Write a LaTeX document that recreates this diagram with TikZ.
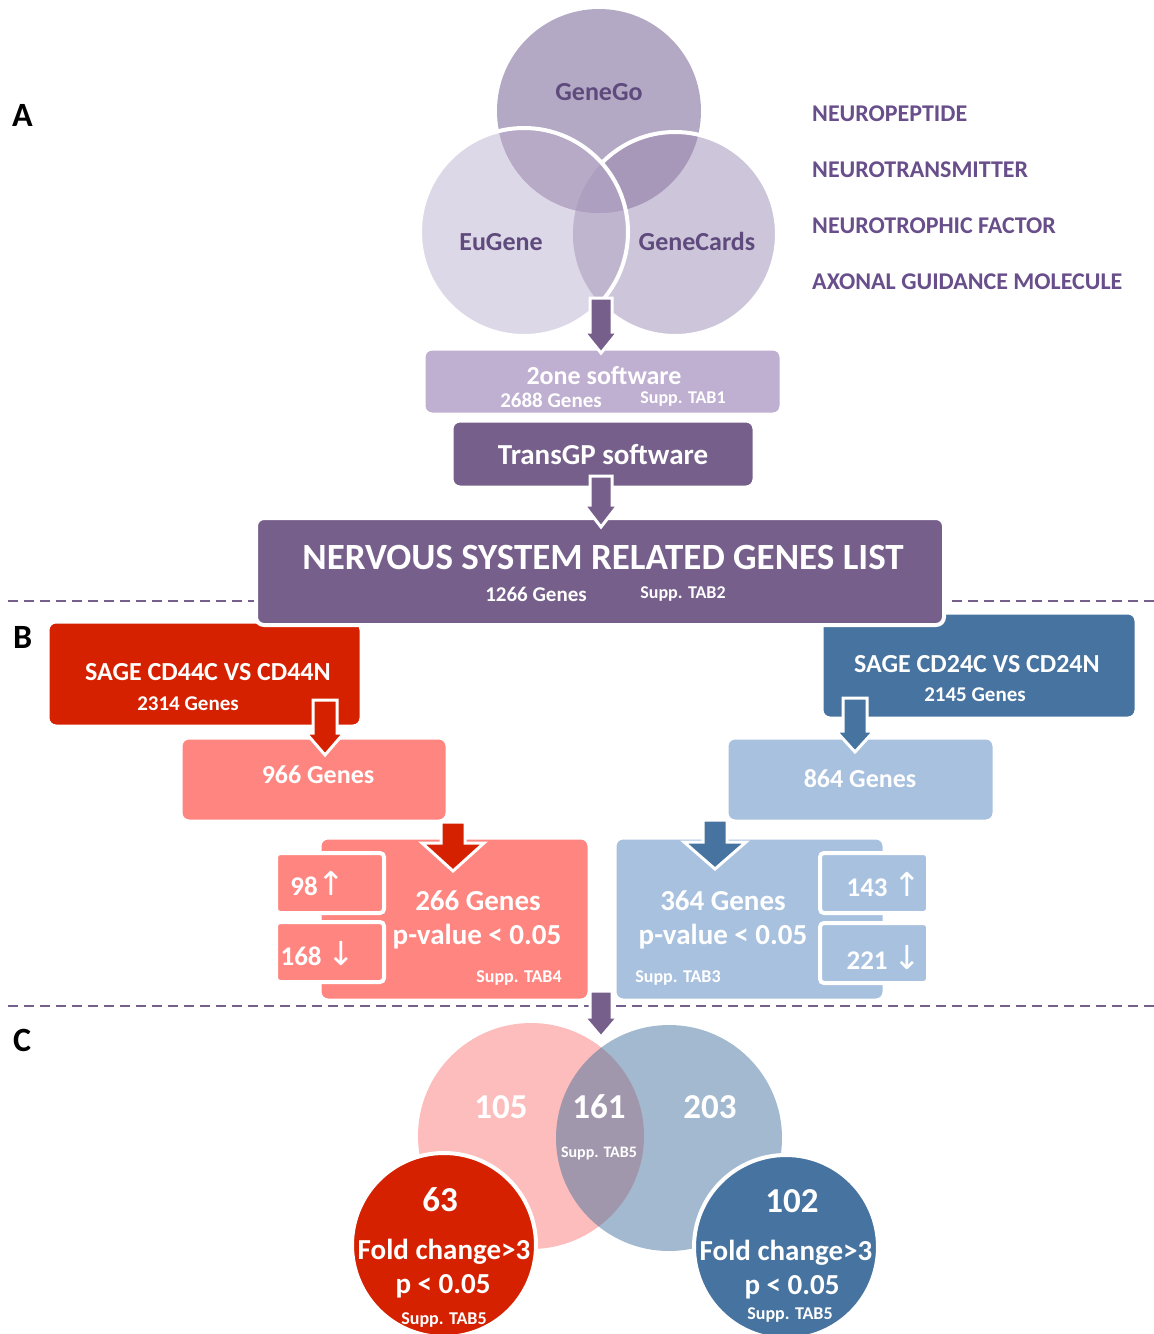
\documentclass[tikz,border=0pt]{standalone}
\usepackage{fontspec}
\setmainfont{Carlito}
\newfontfamily\arrowfont{DejaVu Sans}
\usetikzlibrary{calc}
\definecolor{pdark}{HTML}{765F8B}
\definecolor{plight}{HTML}{BFAFD0}
\definecolor{vtext}{HTML}{5E4A7C}
\definecolor{ltext}{HTML}{684E8A}
\definecolor{rdark}{HTML}{D62100}
\definecolor{rlight}{HTML}{FF8680}
\definecolor{bdark}{HTML}{46739F}
\definecolor{blight}{HTML}{A7C1DF}
\definecolor{eugc}{HTML}{DDD8E7}
\definecolor{gcc}{HTML}{CDC5DA}
\definecolor{ggc}{HTML}{B4A9C5}
\definecolor{ggxgc}{HTML}{A797B8}
\definecolor{euxgc}{HTML}{C0B5CF}
\definecolor{euxgg}{HTML}{B6AAC6}
\definecolor{triple}{HTML}{AD9FBF}
\definecolor{vpink}{HTML}{FDBDBC}
\newcommand{\uparr}{{\mdseries\fontsize{33}{33}\selectfont\arrowfont ↑}}
\newcommand{\dnarr}{{\mdseries\fontsize{33}{33}\selectfont\arrowfont ↓}}
\tikzset{
  lbl/.style={font=\bfseries\fontsize{#1}{#1}\selectfont, text=white, inner sep=0pt, anchor=base},
  box/.style={rectangle, rounded corners=8pt, inner sep=0pt, draw=white, line width=3pt},
  smallbox/.style={rectangle, rounded corners=4pt, inner sep=0pt, draw=white, line width=4pt,
    minimum width=108pt, minimum height=60pt},
  blockline/.style={draw=white, line width=3pt, line join=miter},
  sepline/.style={pdark, line width=2pt, dash pattern=on 10pt off 6pt},
  ring/.style={white, line width=4pt}
}
% start, end, half shaft, half head, head length, colour
\newcommand{\blockarrow}[6]{%
  \filldraw[fill=#6, blockline] let \p1=(#1), \p2=(#2) in
   ({\x1-#3pt},\y1) -- ({\x1+#3pt},\y1) -- ({\x1+#3pt},{\y2+#5pt}) -- ({\x1+#4pt},{\y2+#5pt})
   -- (\x1,\y2) -- ({\x1-#4pt},{\y2+#5pt}) -- ({\x1-#3pt},{\y2+#5pt}) -- cycle;}
\begin{document}
\begin{tikzpicture}[x=1pt,y=-1pt]
\useasboundingbox (0,0) rectangle (1154,1334);
\clip (0,0) rectangle (1154,1334);

% separators
\draw[sepline] (8,601) -- (1154,601);
\draw[sepline] (8,1006) -- (1154,1006);

% ---------- top Venn
\fill[eugc] (524,232) circle[radius=104];
\fill[gcc] (675,234) circle[radius=102];
\fill[ggc] (599,111) circle[radius=102];
\begin{scope}
  \clip (675,234) circle[radius=102];
  \fill[ggxgc] (599,111) circle[radius=102];
\end{scope}
\begin{scope}
  \clip (524,232) circle[radius=104];
  \fill[euxgc] (675,234) circle[radius=102];
  \fill[euxgg] (599,111) circle[radius=102];
  \clip (675,234) circle[radius=102];
  \fill[triple] (599,111) circle[radius=102];
\end{scope}
\begin{scope}[even odd rule]
  \clip (0,0) rectangle (1154,1334) (524,232) circle[radius=104];
  \draw[ring] (675,234) circle[radius=102];
\end{scope}
\draw[ring] (524,232) circle[radius=104];

\node[lbl=26,text=vtext] (tgenego) at (599,100) {GeneGo};
\node[lbl=26,text=vtext] (teugene) at (501,250) {EuGene};
\node[lbl=26,text=vtext] (tgenecards) at (697,250) {GeneCards};

\node[lbl=24,text=ltext,anchor=base west] (l1) at (812,121) {NEUROPEPTIDE};
\node[lbl=24,text=ltext,anchor=base west] (l2) at (812,177) {NEUROTRANSMITTER};
\node[lbl=24,text=ltext,anchor=base west] (l3) at (812,233) {NEUROTROPHIC FACTOR};
\node[lbl=24,text=ltext,anchor=base west] (l4) at (812,289) {AXONAL GUIDANCE MOLECULE};

\node[lbl=34,text=black,anchor=base west] (la) at (12,126) {A};
\node[lbl=34,text=black,anchor=base west] (lb) at (13,648) {B};
\node[lbl=34,text=black,anchor=base west] (lc) at (13,1051) {C};

% ---------- section A boxes
\node[box, fill=plight, minimum width=357pt, minimum height=65pt] (twoone) at (602.5,381.5) {};
\node[box, fill=pdark, minimum width=302pt, minimum height=66pt] (transgp) at (603,454) {};

% ---------- section B boxes
\node[box, fill=rdark, minimum width=313pt, minimum height=104pt] (sage44) at (204.5,674) {};
\node[box, fill=bdark, minimum width=314pt, minimum height=105pt] (sage24) at (979,665.5) {};
\node[box, fill=pdark, line width=4pt, minimum width=688pt, minimum height=107pt] (nerv) at (600,571.5) {};
\node[box, fill=rlight, minimum width=266pt, minimum height=83pt] (g966) at (314,779.5) {};
\node[box, fill=blight, minimum width=267pt, minimum height=83pt] (g864) at (860.5,779.5) {};
\node[box, fill=rlight, minimum width=269pt, minimum height=162pt] (g266) at (454.5,919) {};
\node[box, fill=blight, minimum width=269pt, minimum height=162pt] (g364) at (749.5,919) {};
\node[smallbox, fill=rlight] (up98) at (330,883) {};
\node[smallbox, fill=rlight] (dn168) at (330,952) {};
\node[smallbox, fill=blight] (up143) at (874,883) {};
\node[smallbox, fill=blight] (dn221) at (874,953) {};

% ---------- section C Venn
\fill[vpink] (531,1136) circle[radius=113];
\fill[bdark, opacity=0.5] (669,1138) circle[radius=113];
\node[circle, fill=rdark, draw=white, line width=4pt, minimum size=184pt, inner sep=0pt] (fc63) at (444,1245) {};
\node[circle, fill=bdark, draw=white, line width=4pt, minimum size=184pt, inner sep=0pt] (fc102) at (786,1247) {};

% ---------- block arrows
\coordinate (a1s) at (601,298);  \coordinate (a1e) at (601,353);
\coordinate (a2s) at (601,476);  \coordinate (a2e) at (601,527);
\coordinate (r1s) at (325,700);  \coordinate (r1e) at (325,755);
\coordinate (r2s) at (453,822);  \coordinate (r2e) at (453,871);
\coordinate (b1s) at (855,698);  \coordinate (b1e) at (855,752);
\coordinate (b2s) at (715,820);  \coordinate (b2e) at (715,869);
\coordinate (a3s) at (601,991);  \coordinate (a3e) at (601,1037);
\blockarrow{a1s}{a1e}{11}{17}{21}{pdark}
\blockarrow{a2s}{a2e}{11}{17}{22}{pdark}
\blockarrow{r1s}{r1e}{12}{19}{22}{rdark}
\blockarrow{r2s}{r2e}{12}{31}{28}{rdark}
\blockarrow{b1s}{b1e}{12}{19}{21}{bdark}
\blockarrow{b2s}{b2e}{12}{31}{27}{bdark}
\blockarrow{a3s}{a3e}{11}{17}{20}{pdark}

% ---------- texts
\node[lbl=26] (t2one) at (604,384) {2one software};
\node[lbl=21] (t2688) at (551,407) {2688 Genes};
\node[lbl=18] (ttab1) at (683,403) {Supp. TAB1};
\node[lbl=29] (ttrans) at (603,464) {TransGP software};
\node[lbl=37] (tnerv) at (603,569) {NERVOUS SYSTEM RELATED GENES LIST};
\node[lbl=21] (t1266) at (536,601) {1266 Genes};
\node[lbl=18] (ttab2) at (683,598) {Supp. TAB2};
\node[lbl=26] (tsage44) at (208,680) {SAGE CD44C VS CD44N};
\node[lbl=21] (t2314) at (188,710) {2314 Genes};
\node[lbl=26] (tsage24) at (977,672) {SAGE CD24C VS CD24N};
\node[lbl=21] (t2145) at (975,701) {2145 Genes};
\node[lbl=26] (t966) at (318,783) {966 Genes};
\node[lbl=26] (t864) at (860,787) {864 Genes};
\node[lbl=29] (t266) at (478,910) {266 Genes};
\node[lbl=29] (tp266) at (477,944) {p-value < 0.05};
\node[lbl=18] (ttab4) at (519,982) {Supp. TAB4};
\node[lbl=29] (t364) at (723,910) {364 Genes};
\node[lbl=29] (tp364) at (723,944) {p-value < 0.05};
\node[lbl=18] (ttab3) at (678,982) {Supp. TAB3};
\node[lbl=27] (t98) at (318,895) {98\uparr};
\node[lbl=27] (t168) at (318,965) {168 \dnarr};
\node[lbl=27] (t143) at (884,896) {143 \uparr};
\node[lbl=27] (t221) at (884,969) {221 \dnarr};

\node[lbl=35] (t105) at (501,1118) {105};
\node[lbl=35] (t161) at (599,1118) {161};
\node[lbl=35] (t203) at (710,1118) {203};
\node[lbl=16] (ttab5) at (599,1157) {Supp. TAB5};
\node[lbl=35] (t63) at (440,1211) {63};
\node[lbl=29] (tfc1) at (444,1259) {Fold change>3};
\node[lbl=29] (tpv1) at (443,1293) {p < 0.05};
\node[lbl=18] (ttab5a) at (444,1324) {Supp. TAB5};
\node[lbl=35] (t102) at (792,1212) {102};
\node[lbl=29] (tfc2) at (786,1260) {Fold change>3};
\node[lbl=29] (tpv2) at (792,1294) {p < 0.05};
\node[lbl=18] (ttab5b) at (790,1319) {Supp. TAB5};
\end{tikzpicture}
\end{document}
